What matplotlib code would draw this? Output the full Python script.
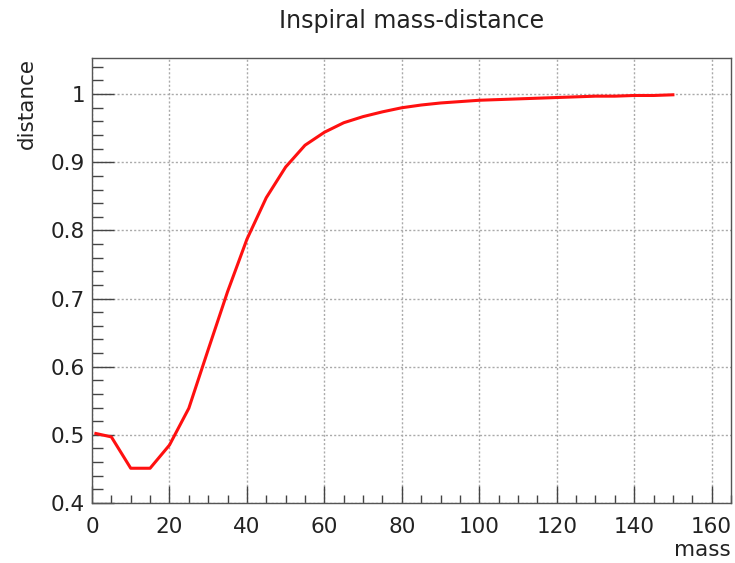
import matplotlib
matplotlib.use("Agg")
import matplotlib.pyplot as plt
from matplotlib.ticker import MultipleLocator

plt.rcParams['font.family'] = ['DejaVu Sans']

mass = [1, 5, 10, 15, 20, 25, 30, 35, 40, 45, 50, 55, 60, 65, 70, 75, 80, 85, 90,
        95, 100, 105, 110, 115, 120, 125, 130, 135, 140, 145, 150]
distance = [0.502, 0.497, 0.451, 0.451, 0.485, 0.539, 0.625, 0.71, 0.787, 0.848,
            0.893, 0.925, 0.944, 0.958, 0.967, 0.974, 0.98, 0.984, 0.987, 0.989,
            0.991, 0.992, 0.993, 0.994, 0.995, 0.996, 0.997, 0.997, 0.998, 0.998, 0.999]

title = "Inspiral mass-distance"
xlabel = "mass"
ylabel = "distance"

fig = plt.figure(figsize=(7.35, 5.63), dpi=100)
ax = fig.add_axes([92/735, 1 - 503/563, (731-92)/735, (503-58)/563])

ax.plot(mass, distance, color='#ff1010', lw=2.2)
ax.set_xlim(0, 165.0)
ax.set_ylim(0.4, 1.053)

ax.xaxis.set_major_locator(MultipleLocator(20))
ax.xaxis.set_minor_locator(MultipleLocator(5))
ax.yaxis.set_minor_locator(MultipleLocator(0.02))
ax.set_yticks([0.4, 0.5, 0.6, 0.7, 0.8, 0.9, 1.0])
ax.set_yticklabels(['0.4', '0.5', '0.6', '0.7', '0.8', '0.9', '1'])

ax.tick_params(which='both', direction='in', top=False, right=False, labelsize=15.5,
               color='#444444', labelcolor='#222222')
ax.tick_params(axis='y', which='major', length=16, width=1, pad=5)
ax.tick_params(axis='y', which='minor', length=8, width=1)
ax.tick_params(axis='x', which='major', length=12, width=1, pad=10)
ax.tick_params(axis='x', which='minor', length=6, width=1)

ax.grid(True, which='major', color='#aaaaaa', linestyle=(0, (1.5, 1.5)), lw=1.0)
for s in ax.spines.values():
    s.set_color('#555555')
    s.set_linewidth(1)

fig.text(412/735, 1 - 21/563, title, ha='center', va='center', fontsize=17, color='#222222')
fig.text(731/735, 1 - 550/563, xlabel, ha='right', va='center', fontsize=15.5, color='#222222')
fig.text(27/735, 1 - 58/563, ylabel, ha='center', va='top', rotation=90, fontsize=15.5,
         color='#222222')

fig.savefig("out.png", dpi=100)
